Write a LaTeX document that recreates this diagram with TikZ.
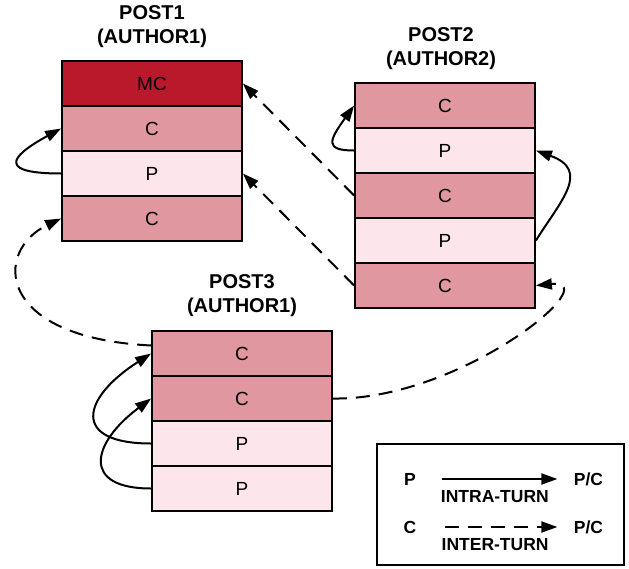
\documentclass[tikz,border=0pt]{standalone}
\usepackage{fontspec}
\setmainfont{Liberation Sans}
\usetikzlibrary{arrows.meta}
\definecolor{mcred}{RGB}{185,25,43}
\definecolor{cred}{RGB}{224,151,159}
\definecolor{pred}{RGB}{252,230,236}
\begin{document}
\begin{tikzpicture}[x=1pt, y=1pt,
	cell/.style={draw, line width=1.8pt, minimum width=180pt, minimum height=45pt, inner sep=0pt, font=\fontsize{19}{19}\selectfont},
	posttitle/.style={align=center, font=\bfseries\fontsize{20}{24}\selectfont},
	intra/.style={line width=2pt, -{Triangle[length=16pt, width=11pt]}},
	inter/.style={intra, dash pattern=on 14pt off 9pt},
	legtext/.style={font=\bfseries\fontsize{17.5}{17.5}\selectfont}]
	\useasboundingbox (0,0) rectangle (629,-568);
	\node[posttitle] (t1) at (152,-26.5) {POST1\\(AUTHOR1)};
	\node[cell, fill=mcred] (p1a) at (152,-83.5) {MC};
	\node[cell, fill=cred] (p1b) at (152,-128.5) {C};
	\node[cell, fill=pred] (p1c) at (152,-173.5) {P};
	\node[cell, fill=cred] (p1d) at (152,-218.5) {C};
	\node[posttitle] (t2) at (441,-48.5) {POST2\\(AUTHOR2)};
	\node[cell, fill=cred] (p2a) at (445,-105.5) {C};
	\node[cell, fill=pred] (p2b) at (445,-150.5) {P};
	\node[cell, fill=cred] (p2c) at (445,-195.5) {C};
	\node[cell, fill=pred] (p2d) at (445,-240.5) {P};
	\node[cell, fill=cred] (p2e) at (445,-285.5) {C};
	\node[posttitle] (t3) at (242,-295.5) {POST3\\(AUTHOR1)};
	\node[cell, fill=cred] (p3a) at (242,-353.5) {C};
	\node[cell, fill=cred] (p3b) at (242,-398.5) {C};
	\node[cell, fill=pred] (p3c) at (242,-443.5) {P};
	\node[cell, fill=pred] (p3d) at (242,-488.5) {P};
	\draw[intra] (p1c.west) .. controls +(-60,0) and +(-55,-30) .. (p1b.west);
	\draw[inter] (p2c.west) -- (p1a.east);
	\draw[inter] (p2e.west) -- (p1c.east);
	\draw[intra] (p2b.west) .. controls +(-30,0) and +(-25,-35) .. (p2a.west);
	\draw[intra] (p2d.east) .. controls +(25,40) and +(55,-20) .. (p2b.east);
	\draw[inter] (p3b.east) .. controls +(128,-2) and +(73,7) .. (p2e.east);
	\draw[inter] ([yshift=8pt]p3a.west) .. controls +(-157,8) and +(-67,-32) .. (p1d.west);
	\draw[intra] (p3c.west) .. controls +(-80,0) and +(-70,-45) .. (p3a.west);
	\draw[intra] (p3d.west) .. controls +(-70,0) and +(-60,-45) .. (p3b.west);
	\node[draw, line width=1.8pt, minimum width=247pt, minimum height=121pt] (legend) at (500.5,-504.5) {};
	\node[legtext] (lp) at (410,-479) {P};
	\node[legtext] (lpc) at (588.5,-479) {P/C};
	\node[legtext] (lc) at (410,-527) {C};
	\node[legtext] (lcc) at (588.5,-527) {P/C};
	\draw[intra, shorten <=23pt, shorten >=13pt] (lp) -- (lpc) node[midway, below=7pt, legtext] {INTRA-TURN};
	\draw[inter, shorten <=25pt, shorten >=13pt] (lc) -- (lcc) node[midway, below=7pt, legtext] {INTER-TURN};
	\end{tikzpicture}
\end{document}
